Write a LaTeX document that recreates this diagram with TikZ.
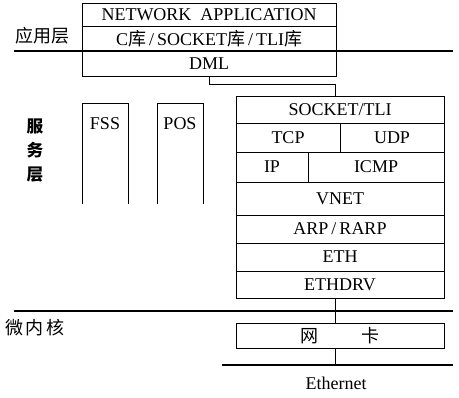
\documentclass[tikz,border=0pt]{standalone}
\usepackage{fontspec}
\setmainfont{Liberation Serif}
\newfontfamily\cjk{Noto Sans CJK SC}
\begin{document}
\begin{tikzpicture}[x=0.75pt,y=-0.75pt,
  txt/.style={inner sep=0pt,font=\fontsize{13.5}{15}\selectfont},
  cell/.style={txt,draw,line width=0.6pt},
  sep/.style={line width=1.2pt},
  thin/.style={line width=0.6pt},
  layer/.style={font=\cjk\fontsize{13.5}{15}\selectfont}]
\useasboundingbox (0,0) rectangle (459,397);
% application layer box
\node[cell,minimum width=190.5pt,minimum height=17.25pt] (na) at (209,14.5) {NETWORK\ \ APPLICATION};
\node[cell,minimum width=190.5pt,minimum height=18.75pt] (clib) at (209,38.5) {C{\cjk 库}\,/\,SOCKET{\cjk 库}\,/\,TLI{\cjk 库}};
\node[cell,minimum width=190.5pt,minimum height=18.75pt] (dml) at (209,63.5) {DML};
% separator lines
\coordinate (s1a) at (14,51); \coordinate (s1b) at (453,51);
\draw[sep] (s1a) -- (s1b);
\coordinate (s2a) at (14,311); \coordinate (s2b) at (453,311);
\draw[sep] (s2a) -- (s2b);
% layer labels
\node[layer] (app) at (42,36) {应用层};
\node[layer,font=\cjk\bfseries\fontsize{12.5}{18}\selectfont,align=center] (svc) at (35,151) {服\\务\\层};
\node[layer] (mk) at (35,328) {微\,内\,核};
% FSS and POS open boxes
\draw[thin] (82,204) -- (82,103) -- (128,103) -- (128,204);
\node[txt] (fss) at (105,124) {FSS};
\draw[thin] (157,204) -- (157,103) -- (203,103) -- (203,204);
\node[txt] (pos) at (180,124) {POS};
% protocol stack
\node[cell,minimum width=156pt,minimum height=20.25pt] (sock) at (340,109.5) {SOCKET/TLI};
\node[cell,minimum width=78pt,minimum height=21.75pt] (tcp) at (288,137.5) {TCP};
\node[cell,minimum width=78pt,minimum height=21.75pt] (udp) at (392,137.5) {UDP};
\node[cell,minimum width=54pt,minimum height=22.5pt] (ip) at (272,167) {IP};
\node[cell,minimum width=102pt,minimum height=22.5pt] (icmp) at (376,167) {ICMP};
\node[cell,minimum width=156pt,minimum height=24.75pt] (vnet) at (340,198.5) {VNET};
\node[cell,minimum width=156pt,minimum height=21pt] (arp) at (340,229) {ARP\,/\,RARP};
\node[cell,minimum width=156pt,minimum height=21pt] (eth) at (340,257) {ETH};
\node[cell,minimum width=156pt,minimum height=20.25pt] (ethdrv) at (340,284.5) {ETHDRV};
\node[cell,minimum width=156pt,minimum height=18.75pt] (nic) at (340,335.5) {{\cjk 网}\hspace{33pt}{\cjk 卡}};
% connectors
\coordinate (j1) at (209,84);
\coordinate (j2) at (335,84);
\draw[thin] (dml.south) -- (j1) -- (j2) -- (j2 |- sock.north);
\draw[thin] (ethdrv.south -| j2) -- (nic.north -| j2);
\coordinate (ea) at (222,365); \coordinate (eb) at (453,365);
\draw[thin] (nic.south -| j2) -- (j2 |- ea);
\draw[line width=0.9pt] (ea) -- (eb);
\node[txt] (ethernet) at (336,383) {Ethernet};
\end{tikzpicture}
\end{document}
